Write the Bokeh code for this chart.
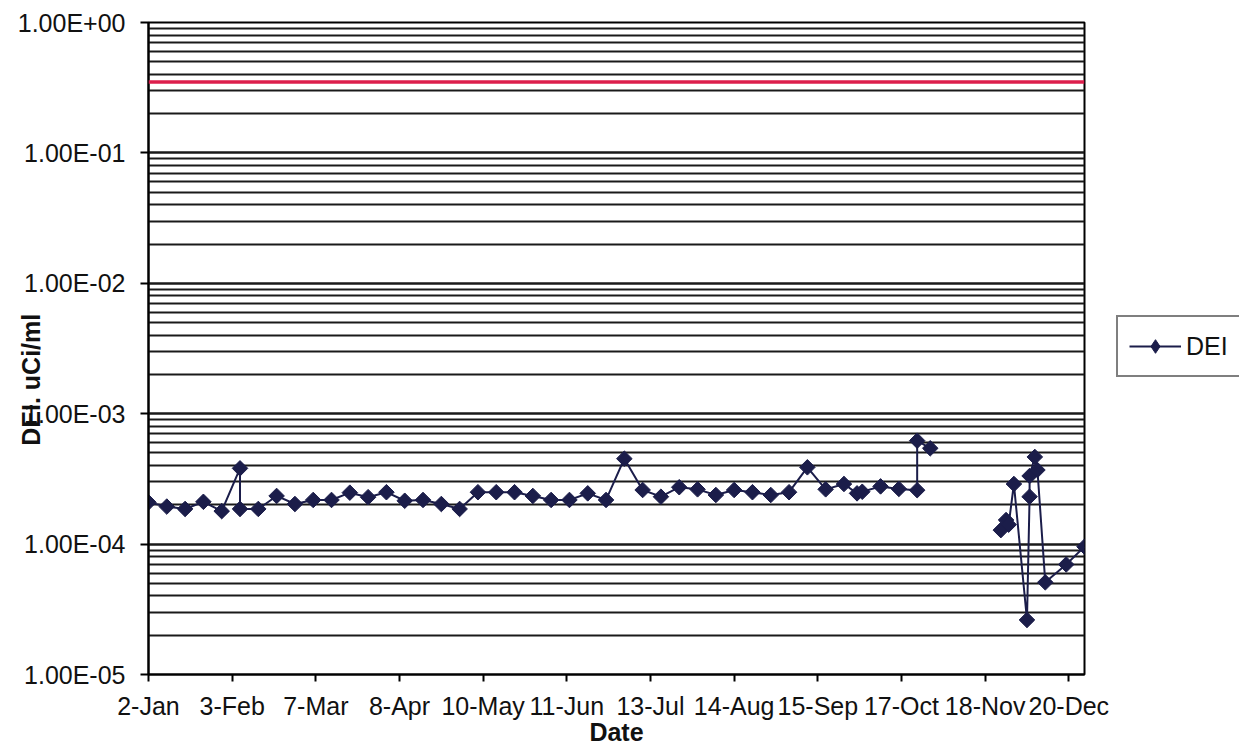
import numpy as np
import pandas as pd
from bokeh.plotting import figure
from bokeh.layouts import row
from bokeh.models import FixedTicker, Range1d, Span, Legend, LegendItem
from bokeh.embed import file_html
from bokeh.resources import INLINE

# ---------------- data ----------------
dates = [
    "2007-01-02", "2007-01-09", "2007-01-16", "2007-01-23", "2007-01-30",
    "2007-02-06", "2007-02-06", "2007-02-13", "2007-02-20", "2007-02-27",
    "2007-03-06", "2007-03-13", "2007-03-20", "2007-03-27", "2007-04-03",
    "2007-04-10", "2007-04-17", "2007-04-24", "2007-05-01", "2007-05-08",
    "2007-05-15", "2007-05-22", "2007-05-29", "2007-06-05", "2007-06-12",
    "2007-06-19", "2007-06-26", "2007-07-03", "2007-07-10", "2007-07-17",
    "2007-07-24", "2007-07-31", "2007-08-07", "2007-08-14", "2007-08-21",
    "2007-08-28", "2007-09-04", "2007-09-11", "2007-09-18", "2007-09-25",
    "2007-09-30", "2007-10-02", "2007-10-09", "2007-10-16", "2007-10-23",
    "2007-10-23", "2007-10-28", "2007-11-12", "2007-11-24", "2007-11-26",
    "2007-11-27", "2007-11-29", "2007-12-04", "2007-12-05", "2007-12-05",
    "2007-12-07", "2007-12-08", "2007-12-11", "2007-12-19", "2007-12-26",
]
dei = [
    2.09e-4, 1.94e-4, 1.86e-4, 2.11e-4, 1.79e-4,
    3.81e-4, 1.86e-4, 1.86e-4, 2.34e-4, 2.03e-4,
    2.18e-4, 2.18e-4, 2.48e-4, 2.29e-4, 2.50e-4,
    2.15e-4, 2.18e-4, 2.03e-4, 1.86e-4, 2.50e-4,
    2.50e-4, 2.50e-4, 2.34e-4, 2.18e-4, 2.18e-4,
    2.45e-4, 2.18e-4, 4.52e-4, 2.60e-4, 2.31e-4,
    2.73e-4, 2.63e-4, 2.38e-4, 2.60e-4, 2.50e-4,
    2.38e-4, 2.50e-4, 3.88e-4, 2.63e-4, 2.89e-4,
    2.45e-4, 2.52e-4, 2.77e-4, 2.65e-4, 2.59e-4,
    6.21e-4, 5.43e-4, np.nan, 1.28e-4, 1.53e-4,
    1.41e-4, 2.89e-4, 2.62e-5, 2.31e-4, 3.33e-4,
    4.66e-4, 3.70e-4, 5.09e-5, 6.98e-5, 9.55e-5,
]
limit_value = 0.35

x_start, x_end = "2007-01-02", "2007-12-26"
x_tick_dates = ["2007-01-02", "2007-02-03", "2007-03-07", "2007-04-08",
                "2007-05-10", "2007-06-11", "2007-07-13", "2007-08-14",
                "2007-09-15", "2007-10-17", "2007-11-18", "2007-12-20"]
x_tick_labels = ["2-Jan", "3-Feb", "7-Mar", "8-Apr", "10-May", "11-Jun",
                 "13-Jul", "14-Aug", "15-Sep", "17-Oct", "18-Nov", "20-Dec"]
y_tick_values = [1e-5, 1e-4, 1e-3, 1e-2, 1e-1, 1.0]
y_tick_labels = ["1.00E-05", "1.00E-04", "1.00E-03", "1.00E-02", "1.00E-01", "1.00E+00"]

series_name = "DEI"
x_axis_title = "Date"
y_axis_title = "DEI. uCi/ml"

# ---------------- styling ----------------
NAVY = "#1b1d4a"
RED = "#dc1f4c"
FONT = "Liberation Sans"
FS = "25px"
TXT = "#111111"
H = 748
W_MAIN = 1114
FRAME_BOTTOM = 674


def to_ms(d):
    return int(pd.Timestamp(d).value // 10**6)


x_ms = [to_ms(d) for d in dates]
x_ticks = [to_ms(d) for d in x_tick_dates]

p = figure(width=W_MAIN, height=H, x_axis_type="datetime", y_axis_type="log",
           output_backend="svg", toolbar_location=None,
           x_range=Range1d(to_ms(x_start), to_ms(x_end)),
           y_range=Range1d(1e-5, 1.0),
           min_border_left=148, min_border_top=22,
           min_border_right=W_MAIN - 1084, min_border_bottom=H - FRAME_BOTTOM)

p.background_fill_color = "white"
p.border_fill_color = "white"
p.outline_line_color = "black"
p.outline_line_width = 2

# y ticks + grids
minor = [m * 10.0**k for k in range(-5, 0) for m in range(2, 10)]
yt = FixedTicker(ticks=y_tick_values, minor_ticks=minor)
p.yaxis.ticker = yt
p.ygrid.ticker = yt
p.yaxis.major_label_overrides = dict(zip(y_tick_values, y_tick_labels))
p.ygrid.grid_line_color = "#1a1a1a"
p.ygrid.grid_line_width = 2.5
p.ygrid.minor_grid_line_color = "#1a1a1a"
p.ygrid.minor_grid_line_width = 1.8
p.xgrid.visible = False

xt = FixedTicker(ticks=x_ticks)
p.xaxis.ticker = xt
p.xaxis.major_label_overrides = dict(zip(x_ticks, x_tick_labels))

for ax in (p.xaxis[0], p.yaxis[0]):
    ax.axis_line_color = "black"
    ax.axis_line_width = 2
    ax.major_tick_line_color = "black"
    ax.major_tick_line_width = 2
    ax.major_tick_in = 0
    ax.minor_tick_line_color = None
    ax.major_label_text_font = FONT
    ax.major_label_text_font_size = FS
    ax.major_label_text_color = TXT
    ax.axis_label_text_font = FONT
    ax.axis_label_text_font_size = FS
    ax.axis_label_text_font_style = "bold"
    ax.axis_label_text_color = TXT

p.yaxis.major_tick_out = 8
p.yaxis.major_label_standoff = 15
# trailing no-break spaces move the visible title down the axis, as in the original
p.yaxis.axis_label = y_axis_title + "\u00a0" * 9
p.yaxis.axis_label_standoff = -30

p.xaxis.major_tick_out = 7
p.xaxis.major_label_standoff = 10
p.xaxis.axis_label = x_axis_title
p.xaxis.axis_label_standoff = -5

# limit line
p.add_layout(Span(location=limit_value, dimension="width",
                  line_color=RED, line_width=3.5))

# series
p.line(x_ms, dei, line_color=NAVY, line_width=2)
p.scatter(x_ms, dei, marker="square", angle=np.pi / 4, size=11,
          fill_color=NAVY, line_color=NAVY)

# ---------------- legend panel (separate canvas to the right) ----------------
q = figure(width=1239 - W_MAIN, height=H, output_backend="svg", toolbar_location=None,
           x_range=Range1d(0, 1), y_range=Range1d(0, 1),
           min_border=0, outline_line_color=None)
q.axis.visible = False
q.grid.visible = False
q.background_fill_color = "white"
q.border_fill_color = "white"
lg_line = q.line(x_ms, dei, line_color=NAVY, line_width=2)
lg_pts = q.scatter(x_ms, dei, marker="diamond", size=10,
                   fill_color=NAVY, line_color=NAVY)

legend = Legend(items=[LegendItem(label=series_name, renderers=[lg_line, lg_pts])],
                location=(2, FRAME_BOTTOM - 377), margin=0, padding=11, spacing=0,
                glyph_width=52, glyph_height=34, label_standoff=5,
                label_height=36,
                label_text_font=FONT, label_text_font_size=FS,
                label_text_color=TXT,
                border_line_color="black", border_line_width=2,
                background_fill_color="white", background_fill_alpha=1.0)
q.add_layout(legend, "center")

layout = row(p, q, spacing=0)
open("out.html", "w").write(file_html(layout, INLINE))
